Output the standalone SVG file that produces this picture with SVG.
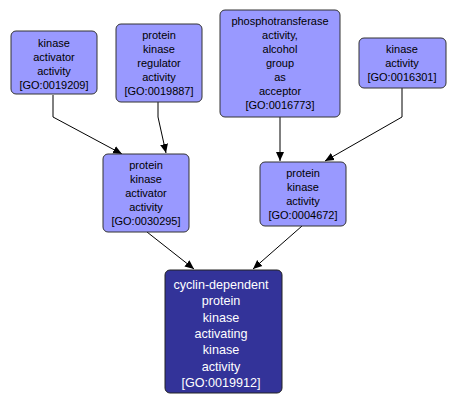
<svg xmlns="http://www.w3.org/2000/svg" width="457" height="404" viewBox="0 0 457 404">
<defs>
<style>
.n rect{fill:#9999ff;stroke:#333333;stroke-width:1}
.n text{font-family:"Liberation Sans",Arial,sans-serif;font-size:11px;fill:#000;text-anchor:middle}
.d rect{fill:#333399;stroke:#222222;stroke-width:1}
.d text{font-family:"Liberation Sans",Arial,sans-serif;font-size:12.6px;fill:#fff;text-anchor:middle}
.e path{fill:none;stroke:#000;stroke-width:1}
</style>
<marker id="ah" markerWidth="10" markerHeight="10" refX="9" refY="5" orient="auto" markerUnits="userSpaceOnUse">
<path d="M0,1 L9,5 L0,9 z" fill="#000"/>
</marker>
</defs>
<rect width="457" height="404" fill="#fff"/>
<g id="edges" class="e">
<path d="M53,95 L53,117 L122,154" marker-end="url(#ah)"/>
<path d="M158,102 L158,117 L166,153" marker-end="url(#ah)"/>
<path d="M280,117 L280,161" marker-end="url(#ah)"/>
<path d="M402,88 L402,117 L325,161" marker-end="url(#ah)"/>
<path d="M147,232 L194,269" marker-end="url(#ah)"/>
<path d="M302,226 L253,269" marker-end="url(#ah)"/>
</g>
<g id="GO0019209" class="n">
<rect x="11" y="31" width="86" height="63" rx="5"/>
<text x="54" y="47">kinase</text>
<text x="54" y="61">activator</text>
<text x="54" y="75">activity</text>
<text x="54" y="89">[GO:0019209]</text>
</g>
<g id="GO0019887" class="n">
<rect x="116" y="24" width="86" height="78" rx="5"/>
<text x="159" y="39">protein</text>
<text x="159" y="53">kinase</text>
<text x="159" y="67">regulator</text>
<text x="159" y="81">activity</text>
<text x="159" y="95">[GO:0019887]</text>
</g>
<g id="GO0016773" class="n">
<rect x="220" y="10" width="120" height="107" rx="5"/>
<text x="280" y="25">phosphotransferase</text>
<text x="280" y="39">activity,</text>
<text x="280" y="53">alcohol</text>
<text x="280" y="67">group</text>
<text x="280" y="81">as</text>
<text x="280" y="95">acceptor</text>
<text x="280" y="109">[GO:0016773]</text>
</g>
<g id="GO0016301" class="n">
<rect x="359" y="38" width="87" height="50" rx="5"/>
<text x="402" y="53">kinase</text>
<text x="402" y="67">activity</text>
<text x="402" y="81">[GO:0016301]</text>
</g>
<g id="GO0030295" class="n">
<rect x="103" y="154" width="86" height="78" rx="5"/>
<text x="146" y="169">protein</text>
<text x="146" y="183">kinase</text>
<text x="146" y="197">activator</text>
<text x="146" y="211">activity</text>
<text x="146" y="225">[GO:0030295]</text>
</g>
<g id="GO0004672" class="n">
<rect x="260" y="162" width="86" height="64" rx="5"/>
<text x="303" y="177">protein</text>
<text x="303" y="191">kinase</text>
<text x="303" y="205">activity</text>
<text x="303" y="219">[GO:0004672]</text>
</g>
<g id="GO0019912" class="d">
<rect x="165" y="270" width="117" height="123" rx="5"/>
<text x="221" y="289">cyclin-dependent</text>
<text x="221" y="305.3">protein</text>
<text x="221" y="321.6">kinase</text>
<text x="221" y="337.9">activating</text>
<text x="221" y="354.2">kinase</text>
<text x="221" y="370.5">activity</text>
<text x="221" y="386.8">[GO:0019912]</text>
</g>
</svg>
